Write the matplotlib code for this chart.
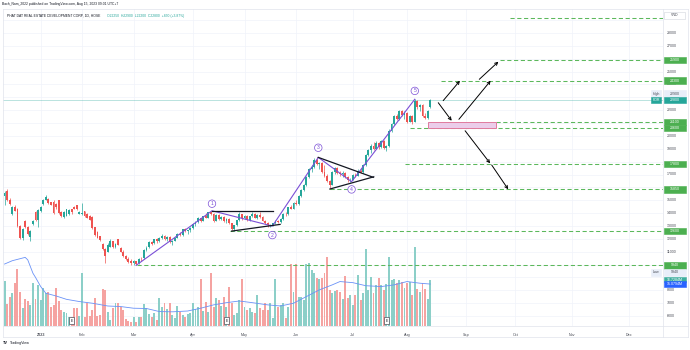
import matplotlib
matplotlib.use('Agg')
import matplotlib.pyplot as plt
import matplotlib.transforms as mtransforms
from matplotlib.patches import Rectangle
import numpy as np
import pandas as pd

plt.rcParams['font.family'] = ['Liberation Sans', 'DejaVu Sans']

# HOSE trading days (bar index = session number)
holidays = ['2023-01-02', '2023-01-20', '2023-01-23', '2023-01-24', '2023-01-25',
            '2023-01-26', '2023-05-01', '2023-05-02', '2023-05-03', '2023-09-01', '2023-09-04']
month_labels = ['2023', 'Feb', 'Mar', 'Apr', 'May', 'Jun', 'Jul', 'Aug', 'Sep', 'Oct', 'Nov', 'Dec']

# PDR daily candles, 13 Dec 2022 .. 14 Aug 2023 (VND)
opens = [15350, 15750, 15050, 13950, 14500, 14300, 13000, 12050, 13400, 12900,
         12150, 13150, 14100, 13450, 14150, 14700, 15050, 15100, 14850, 14900,
         14700, 15000, 14100, 13700, 13800, 13950, 14300, 14450, 14600, 13950,
         13900, 14150, 13950, 13800, 13700, 12900, 12550, 12200, 11600, 11200,
         11000, 11400, 11800, 11350, 11950, 11300, 11000, 10700, 10450, 10300,
         10100, 10250, 10100, 10450, 10500, 11150, 11350, 11750, 11650, 11950,
         11800, 12100, 12250, 12000, 12150, 11750, 11850, 12100, 12400, 12300,
         12750, 12600, 12650, 12850, 13150, 13300, 13600, 13400, 13750, 13650,
         14050, 13950, 13400, 13850, 13550, 13700, 13350, 13550, 13200, 12750,
         13050, 13450, 13900, 13600, 13800, 13450, 13750, 13950, 13650, 13850,
         13700, 13400, 13200, 13050, 13100, 13200, 13400, 13300, 13550, 13950,
         13900, 14450, 14350, 14800, 14700, 15300, 15800, 16200, 16800, 17400,
         17600, 18100, 17800, 17900, 17200, 16900, 16500, 16200, 17200, 17500,
         17150, 17000, 17150, 16800, 16550, 16600, 16950, 16900, 17300, 17200,
         17700, 18500, 18900, 19200, 19000, 19450, 19100, 19600, 19050, 19200,
         20400, 20900, 21550, 21300, 21950, 21600, 21800, 21100, 21550, 21100,
         22700, 22250, 22400, 21550, 21400, 22250]
highs = [15700, 15850, 15150, 14550, 14600, 14400, 13100, 12850, 13500, 13000,
         12700, 13450, 14200, 14350, 14550, 15100, 15400, 15150, 14900, 15000,
         14800, 15050, 14150, 14150, 14350, 14300, 14350, 14550, 14650, 14150,
         14800, 14200, 14000, 13850, 13750, 12950, 12600, 12250, 11700, 11250,
         11700, 11950, 11850, 11700, 12000, 11400, 11100, 10750, 10600, 10400,
         10350, 10300, 10500, 10550, 11200, 11450, 11850, 11850, 12000, 12050,
         12150, 12400, 12300, 12200, 12200, 11900, 12150, 12450, 12500, 12800,
         12850, 12700, 12900, 13200, 13400, 13700, 13650, 13800, 14000, 14100,
         14200, 14000, 13900, 13950, 13800, 13750, 13600, 13600, 13250, 13100,
         13500, 14100, 13950, 13850, 13850, 13800, 14050, 14000, 13900, 14100,
         13750, 13450, 13300, 13150, 13250, 13450, 13500, 13600, 14000, 14100,
         14500, 14600, 14850, 15000, 15400, 15900, 16300, 16900, 17500, 17700,
         18250, 18350, 18000, 17950, 17700, 17000, 16600, 17300, 17600, 17550,
         17300, 17250, 17200, 16900, 16700, 17000, 17100, 17400, 17500, 17800,
         18600, 19000, 19400, 19500, 19600, 19500, 19700, 19650, 19300, 20500,
         21000, 21650, 21700, 22050, 22000, 21900, 21850, 21650, 21600, 22900,
         22800, 22500, 22450, 21750, 22000, 22900]
lows = [14600, 14950, 14600, 13850, 14150, 12900, 11950, 11900, 12850, 12300,
        11800, 13100, 13350, 12900, 14100, 14650, 15000, 14700, 14600, 13950,
        14350, 13950, 13700, 13650, 13750, 13850, 13950, 14300, 14250, 13900,
        13850, 13700, 13600, 13450, 12800, 12250, 12050, 11850, 11150, 10100,
        10950, 11350, 11300, 11250, 11500, 10950, 10600, 10350, 10100, 10000,
        9950, 9940, 10050, 10300, 10450, 11050, 11300, 11500, 11600, 11700,
        11750, 12000, 11900, 11850, 11700, 11500, 11800, 12050, 12200, 12250,
        12500, 12350, 12550, 12750, 13000, 13250, 13300, 13350, 13600, 13600,
        13850, 13300, 13350, 13500, 13450, 13300, 13200, 13150, 12650, 12600,
        13000, 13400, 13500, 13550, 13400, 13400, 13700, 13600, 13550, 13650,
        13350, 13150, 12950, 12950, 12980, 13150, 13200, 13250, 13500, 13800,
        13850, 14300, 14300, 14600, 14650, 15250, 15700, 16100, 16700, 17200,
        17500, 17700, 17400, 17100, 16800, 16400, 15900, 16150, 17050, 17050,
        16900, 16800, 16700, 16450, 16400, 16550, 16800, 16850, 17100, 17150,
        17650, 18400, 18700, 18900, 18950, 19000, 19050, 18950, 18800, 19150,
        20300, 20850, 21200, 21250, 21550, 21350, 21000, 21050, 20950, 21050,
        22100, 21950, 21450, 21300, 21350, 22200]
closes = [15600, 15000, 14700, 14500, 14200, 13000, 12050, 12750, 12900, 12400,
          12600, 13400, 13450, 14250, 14500, 15050, 15250, 14800, 14650, 14000,
          14450, 14000, 13750, 14100, 14300, 14250, 14050, 14350, 14300, 14100,
          14000, 13750, 13650, 13500, 12850, 12300, 12100, 11900, 11200, 10650,
          11550, 11800, 11350, 11600, 11550, 11000, 10650, 10400, 10200, 10100,
          10300, 10050, 10450, 10400, 11150, 11300, 11750, 11600, 11950, 11800,
          12100, 12250, 11950, 12150, 11750, 11850, 12100, 12400, 12300, 12750,
          12600, 12650, 12850, 13150, 13300, 13600, 13400, 13750, 13650, 14050,
          13950, 13400, 13850, 13550, 13700, 13350, 13550, 13200, 12750, 13050,
          13450, 13900, 13600, 13800, 13450, 13750, 13950, 13650, 13850, 13700,
          13400, 13200, 13050, 13100, 13200, 13400, 13300, 13550, 13950, 13900,
          14450, 14350, 14800, 14700, 15300, 15800, 16200, 16800, 17400, 17600,
          18100, 17800, 17900, 17200, 16900, 16500, 16150, 17200, 17500, 17150,
          17000, 17150, 16800, 16550, 16600, 16950, 16900, 17300, 17200, 17700,
          18500, 18900, 19200, 19000, 19450, 19100, 19600, 19050, 19200, 20400,
          20900, 21550, 21300, 21950, 21600, 21800, 21100, 21550, 21050, 22700,
          22250, 22400, 21550, 21400, 21950, 22800]
# volume in millions of shares
volumes = [16.3, 7.8, 10.3, 12.0, 15.4, 20.4, 12.4, 6.5, 9.6, 9.0,
           7.6, 15.6, 9.6, 14.8, 9.4, 13.6, 11.8, 12.4, 6.9, 7.6,
           13.6, 9.1, 5.8, 5.2, 4.8, 3.4, 3.4, 6.4, 6.4, 3.6,
           19.0, 3.4, 8.4, 3.6, 5.8, 10.0, 3.6, 4.0, 13.2, 13.0,
           5.2, 2.2, 6.4, 8.2, 8.4, 6.9, 5.8, 2.4, 1.8, 1.6,
           3.1, 1.6, 3.4, 3.4, 7.9, 6.4, 4.3, 3.4, 4.6, 2.2,
           10.0, 6.9, 8.4, 6.0, 8.2, 4.0, 2.8, 7.2, 5.2, 4.0,
           3.1, 4.3, 4.8, 8.4, 6.0, 6.9, 16.8, 5.5, 8.8, 5.2,
           19.0, 6.7, 10.0, 9.4, 7.2, 10.3, 6.9, 14.0, 8.2, 4.0,
           4.6, 9.4, 16.8, 6.9, 5.8, 6.4, 5.2, 4.6, 11.2, 6.4,
           5.8, 8.2, 5.8, 8.4, 2.8, 16.8, 6.9, 7.6, 8.2, 2.8,
           6.9, 22.3, 12.4, 22.3, 10.6, 10.3, 9.4, 22.3, 22.6, 20.2,
           19.0, 17.2, 16.8, 17.2, 19.0, 25.0, 13.0, 12.0, 12.7, 13.0,
           12.4, 9.6, 18.0, 10.0, 11.2, 7.6, 11.2, 18.4, 9.4, 11.8,
           27.6, 13.0, 17.8, 11.8, 14.8, 17.2, 14.8, 13.0, 15.1, 24.7,
           16.6, 16.8, 15.4, 16.6, 16.0, 13.6, 15.4, 16.0, 11.2, 28.3,
           13.2, 12.4, 15.4, 13.2, 9.6, 16.7]
# volume moving average, read at these bars
ma_bars = [0, 3, 8, 9, 11, 12, 14, 16, 20, 24, 29, 34, 40, 45, 50, 55, 60, 65, 71, 76,
           81, 86, 91, 96, 102, 107, 112, 117, 122, 127, 130, 135, 140, 146, 151, 156, 161, 165]
ma_vals = [22.3, 23.5, 24.7, 23.8, 19.0, 17.5, 14.2, 11.8, 10.8, 9.6, 8.8, 8.2, 7.2, 7.0, 6.4,
           6.3, 5.2, 5.1, 5.4, 6.4, 7.6, 8.4, 9.0, 8.4, 7.6, 7.2, 8.2, 10.6, 13.0, 14.8,
           16.0, 15.6, 14.5, 14.2, 14.8, 16.0, 15.4, 15.1]

# drawn levels / waves
level_prices = [29150, 25900, 24300, 21100, 20600, 17800, 15850, 12600, 9940]
level_start = [195.8, 192.0, 169.1, 190.5, 157.2, 155.2, 126.1, 87.4, 51.3]
level_labels = ['', '25900', '24300', '21100', '20600', '17800', '15850', '12600', '9940']
wave_bars = [51, 80.4, 103.8, 121.6, 134.5, 159]
wave_prices = [9940, 14180, 12990, 18330, 16440, 22850]
wave_names = ['1', '2', '3', '4', '5']
axis_ticks = [6000, 7000, 8000, 11000, 12000, 13000, 14000, 15000, 17000, 19000,
              20000, 22000, 24000, 25000, 27000, 28000]

UP, DOWN = '#26a69a', '#ef5350'
GREEN = '#4caf50'
PURPLE = '#7b4fd6'
W, H = 690, 350

sessions = pd.bdate_range('2022-12-13', '2023-12-29')
sessions = sessions[~sessions.isin(pd.to_datetime(holidays))]
idx = pd.Series(np.arange(len(sessions)), index=sessions)
firsts = idx.groupby(sessions.to_period('M')).first()
month_pos = [firsts[pd.Period(f'2023-{m:02d}', 'M')] for m in range(1, 13)]

o = np.array(opens); h = np.array(highs); l = np.array(lows); c = np.array(closes)
x = np.arange(len(c))
up = c >= o
col = np.where(up, UP, DOWN)

fig = plt.figure(figsize=(W / 100, H / 100), dpi=100)
pos = [3 / W, 24 / H, 660 / W, 317 / H]
axv = fig.add_axes(pos)
ax = fig.add_axes(pos, sharex=axv)
ax.patch.set_alpha(0)

ax.set_xlim(-0.6, 255.2)
ax.set_ylim(5222, 29866)
axv.set_ylim(0, 114.1)

# grid
for p in range(6000, 30000, 1000):
    axv.axhline((p - 5222) / 216.0, color='#f0f3fa', lw=0.5, zorder=0)
for m in month_pos:
    axv.axvline(m, color='#f0f3fa', lw=0.5, zorder=0)

# volume
vcol = np.where(up, '#8ccfc8', '#f5a3a1')
axv.bar(x, volumes, width=0.75, color=vcol, linewidth=0, zorder=1)
axv.plot(ma_bars, ma_vals, color='#6a92f7', lw=0.6, zorder=2)
axv.set_yticks([]); axv.set_xticks([])
for s in axv.spines.values():
    s.set_visible(False)

# candles
ax.vlines(x, l, h, colors=col, lw=0.5, zorder=3)
ax.bar(x, np.maximum(np.abs(c - o), 40), bottom=np.minimum(o, c), width=0.72,
       color=col, linewidth=0, zorder=4)

# last price line
ax.axhline(closes[-1], color=UP, lw=0.5, alpha=0.45, zorder=2)

# horizontal levels
for p, s0 in zip(level_prices, level_start):
    ax.plot([s0, 256], [p, p], color='#5cb85c', lw=0.75, ls=(0, (4, 2.5)), zorder=2)

# pink zone
ax.add_patch(Rectangle((164.1, 20600), 190.5 - 164.1, 500, facecolor='#ebcdea',
                       edgecolor='#e07a9e', lw=0.7, zorder=2.5))

# waves
ax.plot(wave_bars, wave_prices, color=PURPLE, lw=0.8, zorder=5)
label_off = [550, -700, 750, -600, 650]
for b, p, n, off in zip(wave_bars[1:], wave_prices[1:], wave_names, label_off):
    ax.text(b, p + off, n, fontsize=3.6, color=PURPLE, ha='center', va='center', zorder=6,
            bbox=dict(boxstyle='circle,pad=0.25', fc='white', ec=PURPLE, lw=0.5))

# black pattern lines
blk = '#131722'
ax.plot([80.4, 104.1], [14180, 14180], color=blk, lw=0.9, zorder=5)
ax.plot([88.0, 106.8], [12600, 13120], color=blk, lw=0.9, zorder=5)
ax.plot([121.6, 142.9], [18330, 16780], color=blk, lw=0.9, zorder=5)
ax.plot([126.1, 143.1], [15870, 16820], color=blk, lw=0.9, zorder=5)

# scenario arrows
arrows = [((168.1, 22580), (173.3, 21180)), ((170.0, 22740), (176.5, 24290)),
          ((176.1, 21290), (188.4, 24290)), ((184.0, 24400), (191.4, 25770)),
          ((178.5, 20400), (188.2, 17870)), ((188.8, 17740), (195.2, 15850))]
for s, e in arrows:
    ax.annotate('', xy=e, xytext=s, zorder=6,
                arrowprops=dict(arrowstyle='->', color='black', lw=0.7,
                                mutation_scale=5, shrinkA=0, shrinkB=0))

# earnings markers
emark = mtransforms.blended_transform_factory(ax.transData, ax.transAxes)
for b in [26, 86.1, 148.1]:
    ax.text(b, 5.3 / 317, 'E', transform=emark, fontsize=2.6, ha='center', va='center',
            color='#131722', zorder=7,
            bbox=dict(boxstyle='square,pad=0.35', fc='white', ec='#50535e', lw=0.5))

for sp in ax.spines.values():
    sp.set_visible(False)
ax.set_xticks([]); ax.set_yticks([])

# right price scale
bt = mtransforms.blended_transform_factory(fig.transFigure, ax.transData)
bv = mtransforms.blended_transform_factory(fig.transFigure, axv.transData)
for p in axis_ticks:
    ax.text(667 / W, p, str(p), transform=bt, fontsize=2.6, color='#4a4d57',
            va='center', ha='left', clip_on=False)


def tag(y, txt, fc, tc, x0=664, x1=686, tr=bt, hgt=505, ec=None):
    ax.add_patch(Rectangle((x0 / W, y - hgt / 2), (x1 - x0) / W, hgt, transform=tr,
                           facecolor=fc, edgecolor=ec or fc, lw=0.4, clip_on=False, zorder=8))
    ax.text((x0 + x1) / 2 / W, y, txt, transform=tr, fontsize=2.6, color=tc,
            ha='center', va='center', clip_on=False, zorder=9)


for p, t in zip(level_prices, level_labels):
    if t:
        tag(p, t, GREEN, 'white')
tag(23280, '22900', '#e8eef9', '#4a4d57')
tag(23280, 'High', '#e8eef9', '#4a4d57', x0=651, x1=661)
tag(22800, '22800', UP, 'white')
tag(22800, 'PDR', UP, 'white', x0=651, x1=661)
tag(9390, '9940', '#e8eef9', '#4a4d57')
tag(9390, 'Low', '#e8eef9', '#4a4d57', x0=651, x1=661)
tag(16.7284, '16.7284M', '#3fae9f', 'white', tr=bv, hgt=2.1)
tag(15.0794, '15.0794M', '#2962ff', 'white', tr=bv, hgt=2.1)
tag(28000 + 17.5 * 77.76, 'VND', 'white', '#4a4d57', x1=685, hgt=540, ec='#d1d4dc')

# time axis
for m, t in zip(month_pos, month_labels):
    ax.text(m, -9 / 317, t, transform=emark, fontsize=2.7, color='#4a4d57',
            ha='center', va='center', clip_on=False,
            fontweight='bold' if t == '2023' else 'normal')

# frame lines
fc_ = '#e0e3eb'
fig.add_artist(plt.Line2D([663 / W, 663 / W], [1 - 337 / H, 1 - 9 / H], color=fc_, lw=0.5))
for yy in (326, 337, 9):
    fig.add_artist(plt.Line2D([3 / W, 688 / W], [1 - yy / H, 1 - yy / H], color=fc_, lw=0.5))
for xx in (3, 688):
    fig.add_artist(plt.Line2D([xx / W, xx / W], [1 - 337 / H, 1 - 9 / H], color=fc_, lw=0.5))

# header texts
fig.text(2 / W, 1 - 4.5 / H, 'Bach_Nam_2022 published on TradingView.com, Aug 15, 2023 09:01 UTC+7',
         fontsize=2.4, color='#131722', va='center')
fig.text(7 / W, 1 - 16 / H, 'PHAT DAT REAL ESTATE DEVELOPMENT CORP, 1D, HOSE',
         fontsize=2.4, color='#131722', va='center')
fig.text(107 / W, 1 - 16 / H, 'O22250  H22900  L22200  C22800  +850 (+3.87%)',
         fontsize=2.4, color=UP, va='center')
fig.text(3 / W, 1 - 343 / H, 'TV', fontsize=2.8, fontweight='bold', color='#131722', va='center')
fig.text(10 / W, 1 - 343 / H, 'TradingView', fontsize=2.6, color='#131722', va='center')

fig.savefig('out.png', dpi=100)
